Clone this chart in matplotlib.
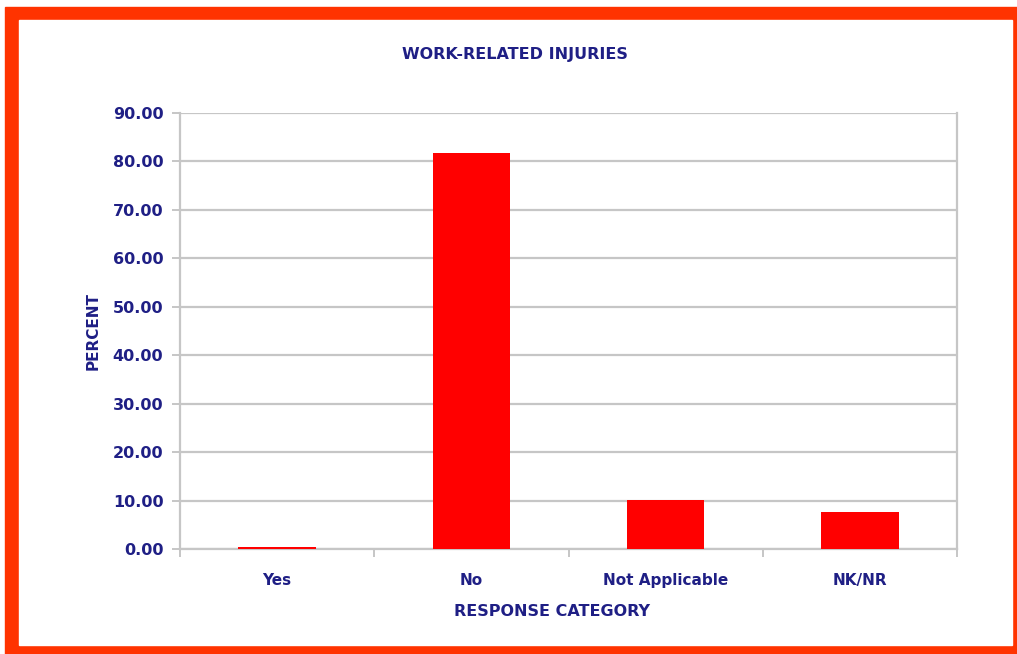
import matplotlib.pyplot as plt
from matplotlib.patches import Rectangle
from matplotlib.ticker import FormatStrFormatter

categories = ["Yes", "No", "Not Applicable", "NK/NR"]
percent = [0.5, 81.8, 10.1, 7.6]
y_ticks = [0, 10, 20, 30, 40, 50, 60, 70, 80, 90]

W, H = 1017, 654
navy = "#1f1f85"
grid_c = "#c6c6c6"

fig = plt.figure(figsize=(W / 100, H / 100), dpi=100)
fig.patch.set_facecolor("white")

# orange frame round the chart
fig.patches.append(Rectangle((5 / W, 0), (W - 5) / W, (H - 7) / H,
                             transform=fig.transFigure, color="#ff3300", zorder=-2))
fig.patches.append(Rectangle((19 / W, 9 / H), (1012 - 19) / W, (645 - 20) / H,
                             transform=fig.transFigure, color="white", zorder=-1))

ax = fig.add_axes([180 / W, 1 - 549 / H, (957 - 180) / W, (549 - 113) / H])
ax.set_facecolor("none")
ax.set_zorder(2)

x = range(len(categories))
ax.bar(x, percent, width=0.4, color="#ff0000", zorder=3)

ax.set_xlim(-0.5, len(categories) - 0.5)
ax.set_ylim(0, 90)
ax.set_yticks(y_ticks)
ax.yaxis.set_major_formatter(FormatStrFormatter("%.2f"))
ax.set_xticks(list(x))
ax.set_xticklabels(categories)
ax.set_xticks([i + 0.5 for i in range(-1, len(categories))], minor=True)

ax.grid(axis="y", color=grid_c, linewidth=1.6, zorder=0)
for side in ["left", "bottom", "right"]:
    ax.spines[side].set_color(grid_c)
    ax.spines[side].set_linewidth(1.6)
ax.spines["top"].set_visible(False)

ax.tick_params(axis="y", colors=grid_c, length=6, width=1.4, labelcolor=navy,
               labelsize=11.5, pad=6)
ax.tick_params(axis="x", which="major", length=0, labelcolor=navy, labelsize=11, pad=17)
ax.tick_params(axis="x", which="minor", length=6, width=1.4, color=grid_c)
for lab in ax.get_yticklabels() + ax.get_xticklabels():
    lab.set_fontweight("bold")

ax.set_ylabel("PERCENT", color=navy, fontsize=11, fontweight="bold", labelpad=9)
fig.text(552 / W, 1 - 612 / H, "RESPONSE CATEGORY", color=navy, fontsize=11.5,
         fontweight="bold", ha="center", va="center")
fig.text(515 / W, 1 - 54 / H, "WORK-RELATED INJURIES", color=navy, fontsize=11.5,
         fontweight="bold", ha="center", va="center")

plt.savefig("out.png", dpi=100)
